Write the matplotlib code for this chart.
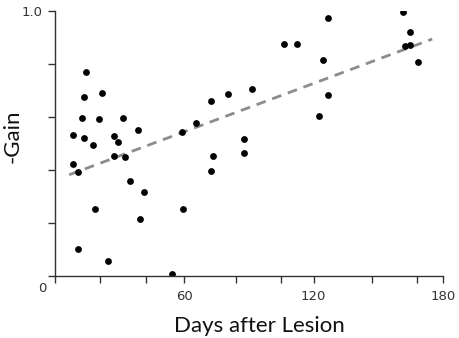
import matplotlib
matplotlib.use("Agg")
import matplotlib.pyplot as plt
import numpy as np

# Data (days after lesion, -gain)
days = [14.3, 13.4, 21.6, 12.5, 20.4, 31.5, 8.5, 13.6, 17.4, 27.4, 29.3, 38.4,
        27.3, 32.5, 8.5, 59.1, 65.4, 72.3, 80.2, 73.4, 72.2, 10.5, 34.6, 41.3,
        18.5, 59.4, 39.3, 10.5, 24.4, 54.3, 91.5, 87.5, 87.5, 106.4, 112.4,
        126.5, 124.5, 126.5, 122.5, 161.5, 164.6, 162.6, 164.6, 168.6]
gain = [0.770, 0.674, 0.688, 0.596, 0.591, 0.595, 0.531, 0.518, 0.493, 0.527,
        0.505, 0.550, 0.451, 0.449, 0.420, 0.541, 0.575, 0.660, 0.686, 0.452,
        0.395, 0.390, 0.356, 0.316, 0.252, 0.253, 0.213, 0.101, 0.054, 0.006,
        0.705, 0.517, 0.462, 0.873, 0.873, 0.974, 0.813, 0.681, 0.601, 0.996,
        0.920, 0.866, 0.871, 0.806]

fit_x = [6.6, 175.0]
fit_y = [0.381, 0.893]

xticks = [0, 21, 42, 60, 84, 105, 120, 147, 168, 180]
xtick_labels = ["", "", "", "60", "", "", "120", "", "", "180"]
yticks = [0, 0.2, 0.4, 0.6, 0.8, 1.0]
ytick_labels = ["", "", "", "", "", "1.0"]

W, H = 459, 338
fig = plt.figure(figsize=(W/100, H/100), dpi=100)
ax = fig.add_axes([55/W, 1-275.7/H, (443-55)/W, (275.7-10.7)/H])

ax.plot(fit_x, fit_y, color="#8c8c8c", lw=2.0, dashes=(3.5, 2.5), zorder=1)
ax.scatter(days, gain, s=24, color="black", zorder=2, linewidths=0)

ax.set_xlim(0, 180)
ax.set_ylim(0, 1.0)
for s in ["top", "right"]:
    ax.spines[s].set_visible(False)
for s in ["left", "bottom"]:
    ax.spines[s].set_color("#333333")
    ax.spines[s].set_linewidth(1.0)

ax.set_xticks(xticks)
ax.set_xticklabels(xtick_labels)
ax.set_yticks(yticks)
ax.set_yticklabels(ytick_labels)
ax.tick_params(axis="both", direction="out", length=5, width=1.0,
               color="#333333", labelcolor="#333333", labelsize=9.5)
ax.tick_params(axis="x", pad=5)
ax.tick_params(axis="y", pad=4)

ax.annotate("0", xy=(0, 0), xycoords="axes fraction", xytext=(-9, -9),
            textcoords="offset points", ha="center", va="center",
            fontsize=9.5, color="#333333")

fig.text(259/W, 1-331.7/H, "Days after Lesion", fontsize=16, family="Lato",
         color="#111111", ha="center", va="baseline")
fig.text(13/W, 1-136/H, "-Gain", fontsize=16, family="Lato",
         color="#111111", ha="center", va="center", rotation=90)

fig.savefig("out.png", dpi=100)
